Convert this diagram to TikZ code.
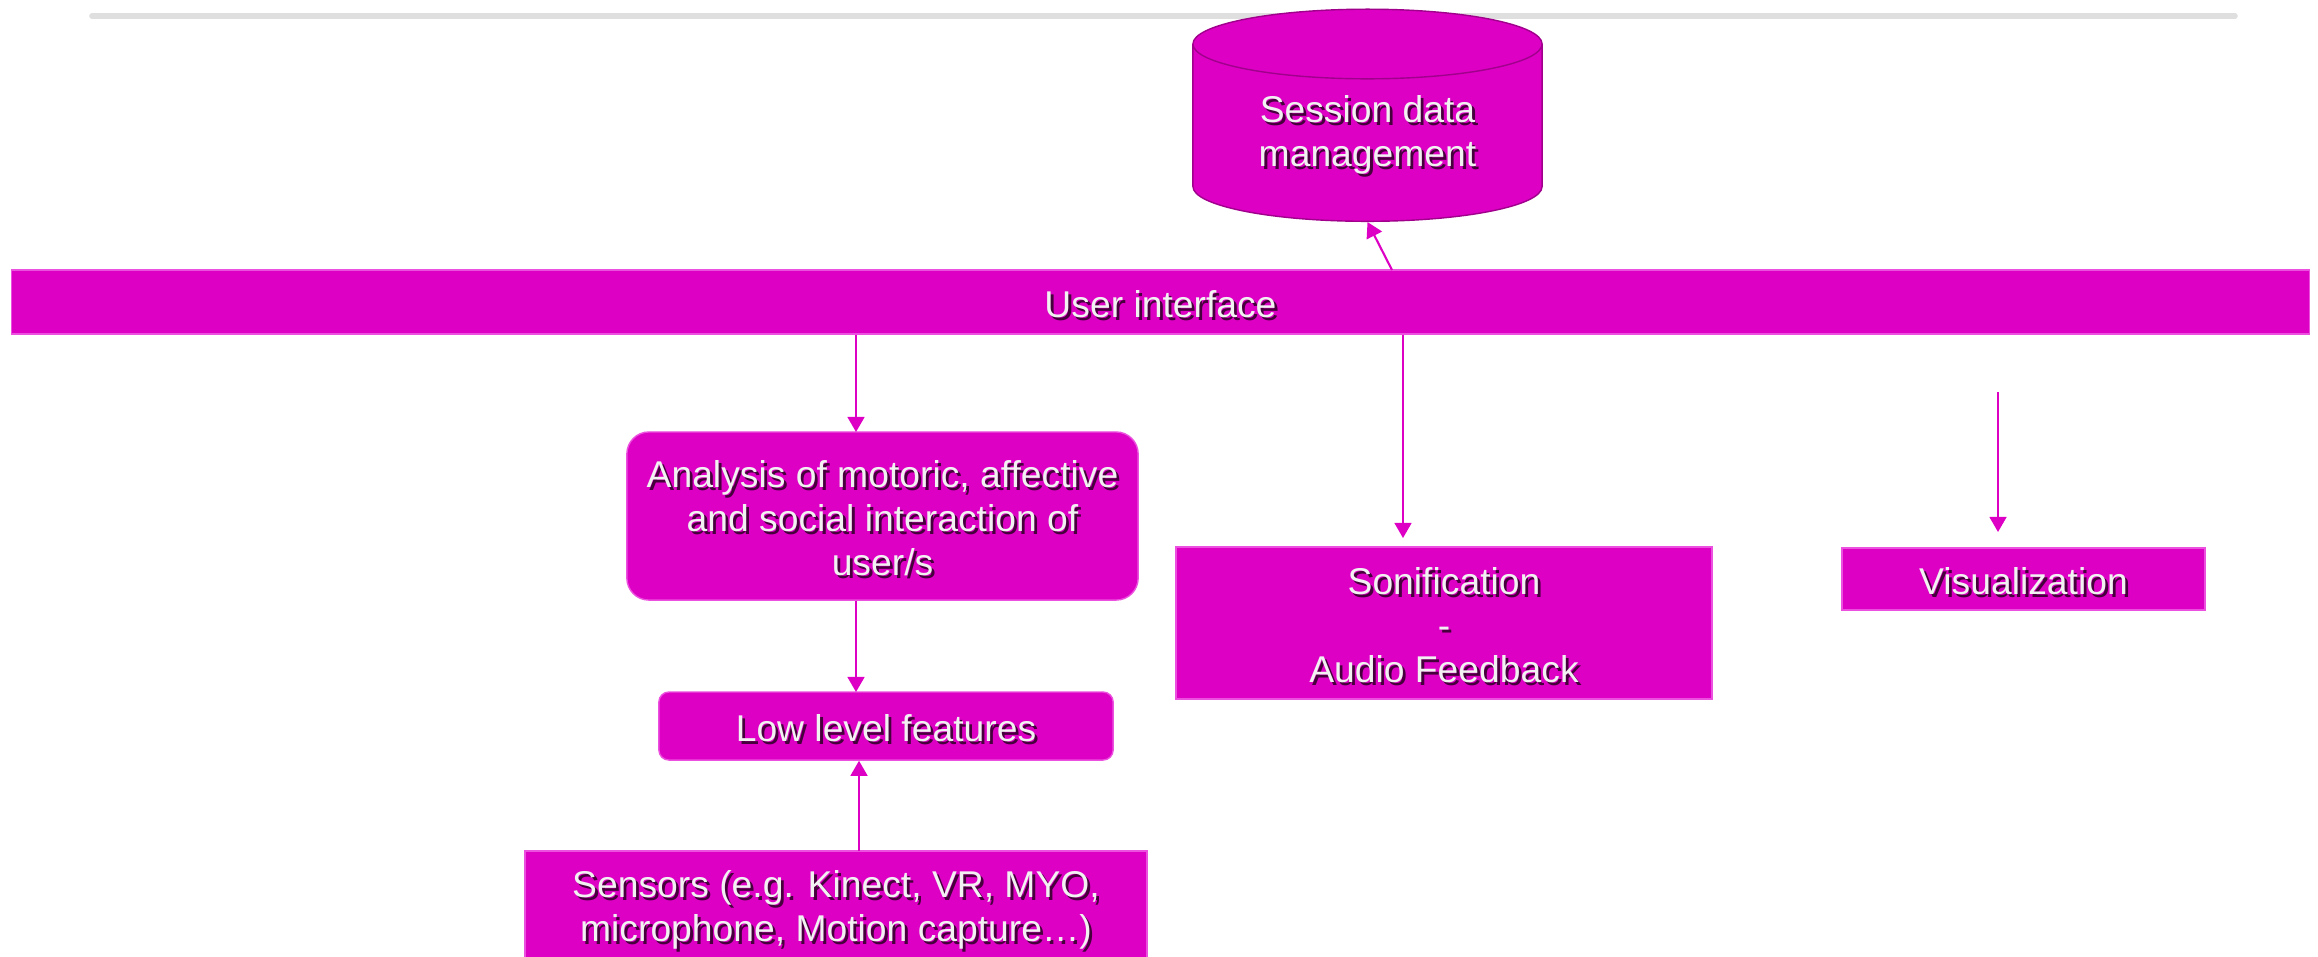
\documentclass[tikz,border=0pt]{standalone}
\usepackage{fontspec}
\setmainfont{Liberation Sans}
\usetikzlibrary{shapes.geometric,arrows.meta}
\definecolor{mag}{RGB}{221,0,196}
\definecolor{magline}{RGB}{236,80,222}
\definecolor{magdark}{RGB}{160,0,140}
\definecolor{shade}{RGB}{70,0,60}
\definecolor{txt}{RGB}{242,242,242}
\newcommand\shd[1]{\leavevmode\raisebox{-1pt}[\height][\depth]{\rlap{\kern0.8pt\raisebox{-0.8pt}{\textcolor{shade}{#1}}}#1}}
\tikzset{blk/.style={fill=mag,draw=magline,line width=0.4pt,text=txt,align=center,
  inner sep=0pt,font=\fontsize{10.6}{12.5}\selectfont},
  arr/.style={->,draw=mag,line width=0.6pt}}

\begin{document}
\begin{tikzpicture}[x=0.01cm,y=-0.01cm,>={Triangle[width=4.8pt,length=4.3pt]}]
\clip (0,0) rectangle (2318,956);
\draw[line width=1.6pt,line cap=round,gray!25] (92,16) -- (2235,16);
\node[blk,shape=cylinder,shape border rotate=90,aspect=0.32,draw=magdark,
  minimum width=3.49cm,minimum height=2.12cm] (sdm) at (1367.5,133)
  {\shd{Session data}\\ \shd{management}};
\node[blk,minimum width=22.97cm,minimum height=0.64cm] (ui) at (1160.5,302) {\shd{User interface}};
\node[blk,rounded corners=0.22cm,minimum width=5.11cm,minimum height=1.68cm] (an) at (882.5,516)
  {\shd{Analysis of motoric, affective}\\ \shd{and social interaction of}\\ \shd{user/s}};
\node[blk,rounded corners=0.1cm,minimum width=4.54cm,minimum height=0.68cm] (low) at (886,726) {\shd{Low level features}};
\node[blk,minimum width=6.22cm,minimum height=1.14cm] (sens) at (836,908)
  {\shd{Sensors (e.g. Kinect, VR, MYO,}\\ \shd{microphone, Motion capture…)}};
\node[blk,minimum width=5.36cm,minimum height=1.52cm] (son) at (1444,623)
  {\shd{Sonification}\\ \shd{-}\\ \shd{Audio Feedback}};
\node[blk,minimum width=3.63cm,minimum height=0.62cm] (vis) at (2023.5,579) {\shd{Visualization}};
%
\coordinate (sdmtail) at (1392,270);
\coordinate (antip) at (856,432);
\coordinate (lowtip) at (856,692);
\coordinate (senstail) at (859,851);
\coordinate (sontip) at (1403,538);
\coordinate (vistail) at (1998,392);
\coordinate (vistip) at (1998,532);
%
\path (sdmtail) edge[arr] (sdm.270)
      (ui.south -| antip) edge[arr] (antip)
      (an.south -| lowtip) edge[arr] (lowtip)
      (senstail) edge[arr] (low.south -| senstail)
      (ui.south -| sontip) edge[arr] (sontip)
      (vistail) edge[arr] (vistip)
;
\end{tikzpicture}
\end{document}
